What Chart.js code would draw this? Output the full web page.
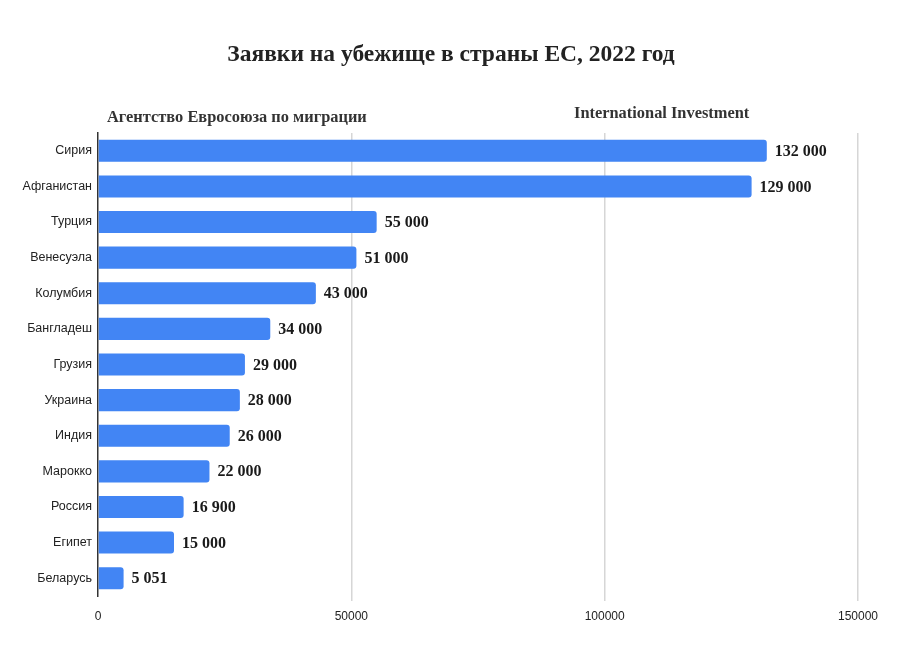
<!DOCTYPE html>
<html>
<head>
<meta charset="utf-8">
<script src="https://cdn.jsdelivr.net/npm/chart.js@4"></script>
<style>
  html, body { margin: 0; padding: 0; background: #fff; }
  #wrap { position: relative; width: 900px; height: 658px; }
</style>
</head>
<body>
<div id="wrap"><canvas id="chart" width="900" height="658"></canvas></div>
<script>
// данные
const countries = ['Сирия', 'Афганистан', 'Турция', 'Венесуэла', 'Колумбия', 'Бангладеш', 'Грузия', 'Украина', 'Индия', 'Марокко', 'Россия', 'Египет', 'Беларусь'];
const applications = [132000, 129000, 55000, 51000, 43000, 34000, 29000, 28000, 26000, 22000, 16900, 15000, 5051];
const xTicks = [0, 50000, 100000, 150000];

const chartTitle = 'Заявки на убежище в страны ЕС, 2022 год';
const sourceLeft = 'Агентство Евросоюза по миграции';
const sourceRight = 'International Investment';

const serif = '"Liberation Serif", "DejaVu Serif", serif';
const sans = '"Liberation Sans", Arial, sans-serif';

// 132000 -> "132 000"
function fmt(v) {
  return String(v).replace(/\B(?=(\d{3})+(?!\d))/g, ' ');
}

// заголовки и подписи значений
const textPlugin = {
  id: 'texts',
  afterDatasetsDraw(chart) {
    const { ctx } = chart;
    ctx.save();
    ctx.fillStyle = '#222';
    ctx.textBaseline = 'middle';

    ctx.font = 'bold 23.5px ' + serif;
    ctx.textAlign = 'center';
    ctx.fillText(chartTitle, 451, 55);

    ctx.font = 'bold 16.4px ' + serif;
    ctx.fillStyle = '#333';
    ctx.textAlign = 'left';
    ctx.fillText(sourceLeft, 107, 118);
    ctx.fillText(sourceRight, 574, 114);

    ctx.font = 'bold 16px ' + serif;
    ctx.fillStyle = '#1a1a1a';
    const meta = chart.getDatasetMeta(0);
    meta.data.forEach((bar, i) => {
      ctx.fillText(fmt(applications[i]), bar.x + 8, bar.y + 1);
    });
    ctx.restore();
  }
};

new Chart(document.getElementById('chart'), {
  type: 'bar',
  data: {
    labels: countries,
    datasets: [{
      data: applications,
      backgroundColor: '#4285f4',
      borderRadius: 3,
      borderSkipped: 'start',
      barPercentage: 0.62,
      categoryPercentage: 1
    }]
  },
  options: {
    indexAxis: 'y',
    responsive: false,
    animation: false,
    layout: { padding: { top: 133, right: 42, left: 0, bottom: 0 } },
    plugins: {
      legend: { display: false },
      tooltip: { enabled: false }
    },
    scales: {
      x: {
        min: 0,
        max: 150000,
        afterBuildTicks(scale) {
          scale.ticks = xTicks.map(v => ({ value: v }));
        },
        afterFit(scale) { scale.height = 62; },
        grid: {
          color: (c) => c.tick && c.tick.value === 0 ? 'rgba(0,0,0,0)' : '#d6d6d6',
          lineWidth: 1.5,
          drawTicks: true,
          tickLength: 5
        },
        border: { display: false },
        ticks: {
          color: '#222',
          font: { family: sans, size: 12 },
          padding: 8,
          maxRotation: 0,
          callback: (v) => String(v)
        }
      },
      y: {
        afterFit(scale) { scale.width = 98; },
        grid: { display: false, drawTicks: false, tickLength: 0 },
        border: { display: true, color: '#333', width: 1.5 },
        ticks: {
          color: '#222',
          font: { family: sans, size: 12.5 },
          padding: 6
        }
      }
    }
  },
  plugins: [textPlugin]
});
</script>
</body>
</html>
